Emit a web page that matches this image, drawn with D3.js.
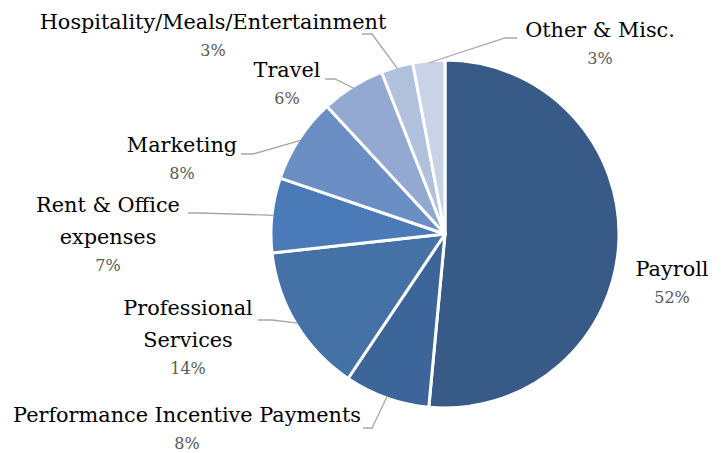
<!DOCTYPE html>
<html>
<head>
<meta charset="utf-8">
<script src="https://cdn.jsdelivr.net/npm/d3@7/dist/d3.min.js"></script>
<style>
  html, body { margin: 0; padding: 0; background: #fff; }
  svg { display: block; }
</style>
</head>
<body>
<svg id="chart" width="722" height="453"></svg>
<script>
// Expense categories, clockwise from 12 o'clock
const categories = [
  "Payroll",
  "Performance Incentive Payments",
  "Professional Services",
  "Rent & Office expenses",
  "Marketing",
  "Travel",
  "Hospitality/Meals/Entertainment",
  "Other & Misc."
];
const shares = [52, 8, 14, 7, 8, 6, 3, 3];
const sliceColors = ["#375a87", "#3c6599", "#4472a6", "#4a7ab8", "#6b8fc4", "#93a9d1", "#b1c0dc", "#c9d3e7"];

// Label layout: text lines, anchor point, and leader-line start/elbow (null = no leader)
const labelLayout = [
  { lines: ["Payroll"], x: 672, y: 276, lead: null },
  { lines: ["Performance Incentive Payments"], x: 187, y: 422, lead: [[363, 428], [372, 428]] },
  { lines: ["Professional", "Services"], x: 188, y: 315, lead: [[258, 320], [272, 320]] },
  { lines: ["Rent & Office", "expenses"], x: 108, y: 212, lead: [[188, 213], [200, 213]] },
  { lines: ["Marketing"], x: 182, y: 152, lead: [[241, 154], [253, 154]] },
  { lines: ["Travel"], x: 287, y: 77, lead: [[325, 79], [335, 79]] },
  { lines: ["Hospitality/Meals/Entertainment"], x: 213, y: 29, lead: [[362, 34], [372, 34]] },
  { lines: ["Other & Misc."], x: 600, y: 37, lead: [[517, 38], [505, 38]] }
];
const labelFont = "'DejaVu Serif', serif";

const cx = 445, cy = 234, radius = 174;
const svg = d3.select("#chart");
const g = svg.append("g").attr("transform", `translate(${cx},${cy})`);

const pie = d3.pie().sort(null).value(d => d.value);
const arcs = pie(categories.map((c, i) => ({ name: c, value: shares[i], i })));

const arc = d3.arc().innerRadius(0).outerRadius(radius);

g.selectAll("path.slice")
  .data(arcs)
  .join("path")
  .attr("class", "slice")
  .attr("d", arc)
  .attr("fill", d => sliceColors[d.data.i])
  .attr("stroke", "#fff")
  .attr("stroke-width", 3)
  .attr("stroke-linejoin", "round");

// Leader lines from label to the slice edge
const line = d3.line();
arcs.forEach(d => {
  const L = labelLayout[d.data.i];
  if (!L.lead) return;
  const mid = (d.startAngle + d.endAngle) / 2;
  const end = [cx + (radius - 2) * Math.sin(mid), cy - (radius - 2) * Math.cos(mid)];
  svg.append("path")
    .attr("d", line([L.lead[0], L.lead[1], end]))
    .attr("fill", "none")
    .attr("stroke", "#a6a6a6")
    .attr("stroke-width", 1.3);
});

// Category names and percentages
arcs.forEach(d => {
  const L = labelLayout[d.data.i];
  const t = svg.append("text")
    .attr("x", L.x)
    .attr("y", L.y)
    .attr("text-anchor", "middle")
    .style("font-family", labelFont);
  L.lines.forEach((ln, k) => {
    t.append("tspan")
      .attr("x", L.x)
      .attr("dy", k === 0 ? 0 : 32)
      .style("font-size", "20.8px")
      .attr("fill", "#000")
      .text(ln);
  });
  t.append("tspan")
    .attr("x", L.x)
    .attr("dy", 27)
    .style("font-size", "16px")
    .attr("fill", "#595959")
    .text(d.data.value + "%");
});
</script>
</body>
</html>
